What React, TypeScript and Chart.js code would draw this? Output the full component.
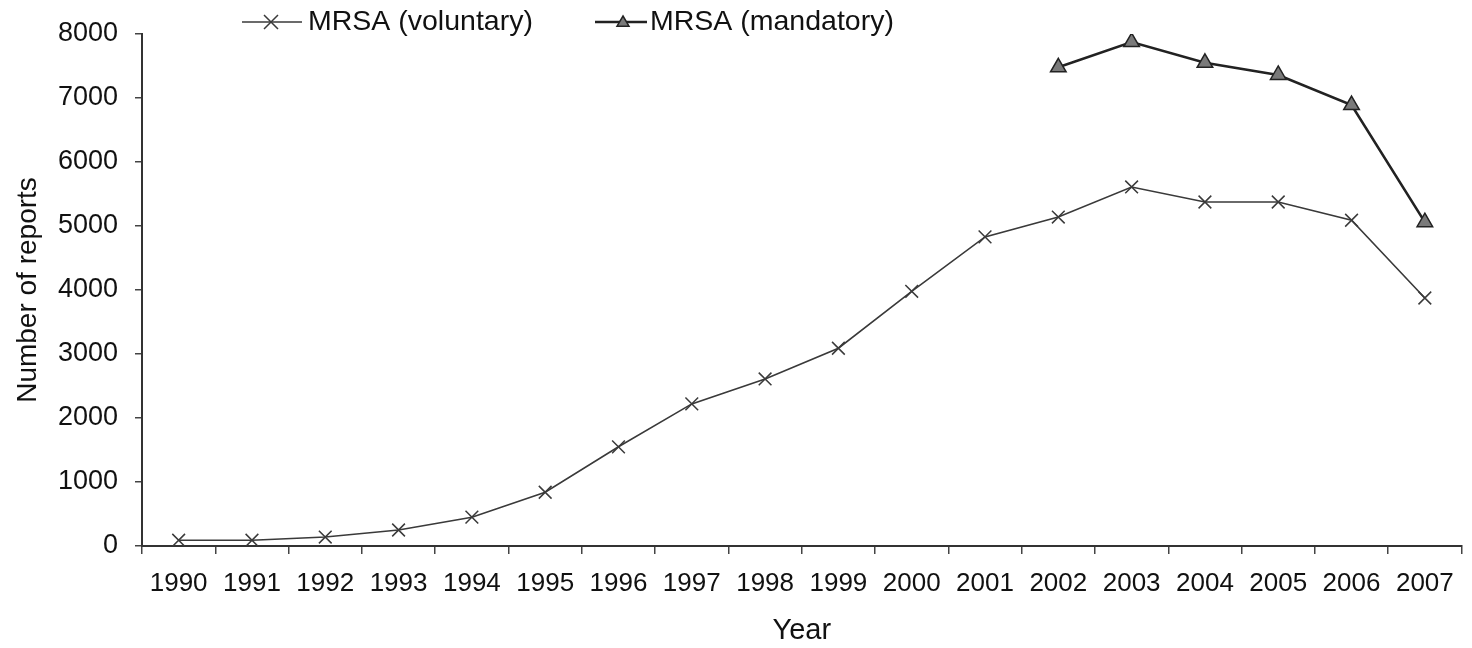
import React, { useEffect, useRef } from "react";
import { Chart, registerables } from "chart.js";

Chart.register(...registerables);

const years = ["1990","1991","1992","1993","1994","1995","1996","1997","1998","1999","2000","2001","2002","2003","2004","2005","2006","2007"];
const voluntary = [90, 90, 140, 250, 450, 840, 1550, 2220, 2610, 3090, 3980, 4830, 5140, 5610, 5375, 5375, 5090, 3875];
const mandatory = [null, null, null, null, null, null, null, null, null, null, null, null, 7480, 7875, 7550, 7360, 6890, 5060];
const yTicks = [0, 1000, 2000, 3000, 4000, 5000, 6000, 7000, 8000];

const FONT = "'Liberation Sans', Arial, sans-serif";

const legendPlugin = {
  id: "customLegend",
  afterDraw(chart: any) {
    const ctx = chart.ctx;
    const items = [
      { x0: 242, x1: 302, mx: 271, tx: 308, ds: chart.data.datasets[0] },
      { x0: 595, x1: 647, mx: 623, tx: 650, ds: chart.data.datasets[1] },
    ];
    const y = 22;
    ctx.save();
    items.forEach((it) => {
      const ds = it.ds;
      ctx.strokeStyle = ds.borderColor;
      ctx.lineWidth = ds.borderWidth;
      ctx.beginPath();
      ctx.moveTo(it.x0, y);
      ctx.lineTo(it.x1, y);
      ctx.stroke();
      if (ds.pointStyle === "crossRot") {
        const r = 7;
        ctx.lineWidth = 1.5;
        ctx.strokeStyle = ds.pointBorderColor;
        ctx.beginPath();
        ctx.moveTo(it.mx - r, y - r);
        ctx.lineTo(it.mx + r, y + r);
        ctx.moveTo(it.mx - r, y + r);
        ctx.lineTo(it.mx + r, y - r);
        ctx.stroke();
      } else {
        const r = 6;
        ctx.fillStyle = ds.pointBackgroundColor;
        ctx.strokeStyle = ds.pointBorderColor;
        ctx.lineWidth = 1.5;
        ctx.beginPath();
        ctx.moveTo(it.mx, y - r);
        ctx.lineTo(it.mx + r, y + r * 0.7);
        ctx.lineTo(it.mx - r, y + r * 0.7);
        ctx.closePath();
        ctx.fill();
        ctx.stroke();
      }
      ctx.fillStyle = "#111";
      ctx.font = `28.5px ${FONT}`;
      ctx.textBaseline = "middle";
      ctx.textAlign = "left";
      ctx.fillText(ds.label, it.tx, y);
    });
    ctx.restore();
  },
};

export default function App() {
  const ref = useRef<HTMLCanvasElement | null>(null);

  useEffect(() => {
    const canvas = ref.current;
    if (!canvas) return;
    const chart = new Chart(canvas, {
      type: "line",
      data: {
        labels: years,
        datasets: [
          {
            label: "MRSA (voluntary)",
            data: voluntary,
            borderColor: "#3a3a3a",
            borderWidth: 1.6,
            pointStyle: "crossRot",
            pointRadius: 9,
            pointBorderWidth: 1.5,
            pointBorderColor: "#3a3a3a",
            pointBackgroundColor: "#3a3a3a",
            fill: false,
            tension: 0,
          },
          {
            label: "MRSA (mandatory)",
            data: mandatory,
            borderColor: "#222",
            borderWidth: 2.6,
            pointStyle: "triangle",
            pointRadius: 9,
            pointBorderWidth: 1.5,
            pointBorderColor: "#222",
            pointBackgroundColor: "#7a7a7a",
            fill: false,
            tension: 0,
            spanGaps: false,
          },
        ],
      },
      options: {
        animation: false,
        responsive: false,
        maintainAspectRatio: false,
        layout: { padding: { top: 34, right: 7, bottom: 0, left: 0 } },
        plugins: {
          legend: { display: false },
          tooltip: { enabled: false },
          title: { display: false },
        },
        scales: {
          x: {
            type: "category",
            offset: true,
            grid: {
              display: true,
              drawOnChartArea: false,
              drawTicks: true,
              tickLength: 8,
              offset: true,
              color: "#444",
              lineWidth: 1.5,
            },
            border: { display: true, color: "#333", width: 2 },
            ticks: {
              color: "#111",
              font: { family: FONT, size: 26 },
              padding: 14,
              maxRotation: 0,
              autoSkip: false,
            },
            title: {
              display: true,
              text: "Year",
              color: "#111",
              font: { family: FONT, size: 29 },
              padding: { top: 0, bottom: 0 },
            },
            afterFit(scale: any) {
              scale.height = 102;
            },
          },
          y: {
            min: 0,
            max: 8000,
            afterBuildTicks(scale: any) {
              scale.ticks = yTicks.map((v) => ({ value: v }));
            },
            grid: {
              display: true,
              drawOnChartArea: false,
              drawTicks: true,
              tickLength: 7,
              color: "#444",
              lineWidth: 1.5,
            },
            border: { display: true, color: "#333", width: 2 },
            ticks: {
              color: "#111",
              font: { family: FONT, size: 27 },
              padding: 17,
              callback: (v: any) => String(v),
            },
            title: {
              display: true,
              text: "Number of reports",
              color: "#111",
              font: { family: FONT, size: 28 },
              padding: { top: 11, bottom: 0 },
            },
            afterFit(scale: any) {
              scale.width = 142;
            },
          },
        },
      },
      plugins: [legendPlugin],
    } as any);
    return () => chart.destroy();
  }, []);

  return (
    <div style={{ position: "fixed", left: 0, top: 0, width: 1472, height: 648, background: "#fff" }}>
      <canvas ref={ref} width={1472} height={648} style={{ width: 1472, height: 648, display: "block" }} />
    </div>
  );
}
